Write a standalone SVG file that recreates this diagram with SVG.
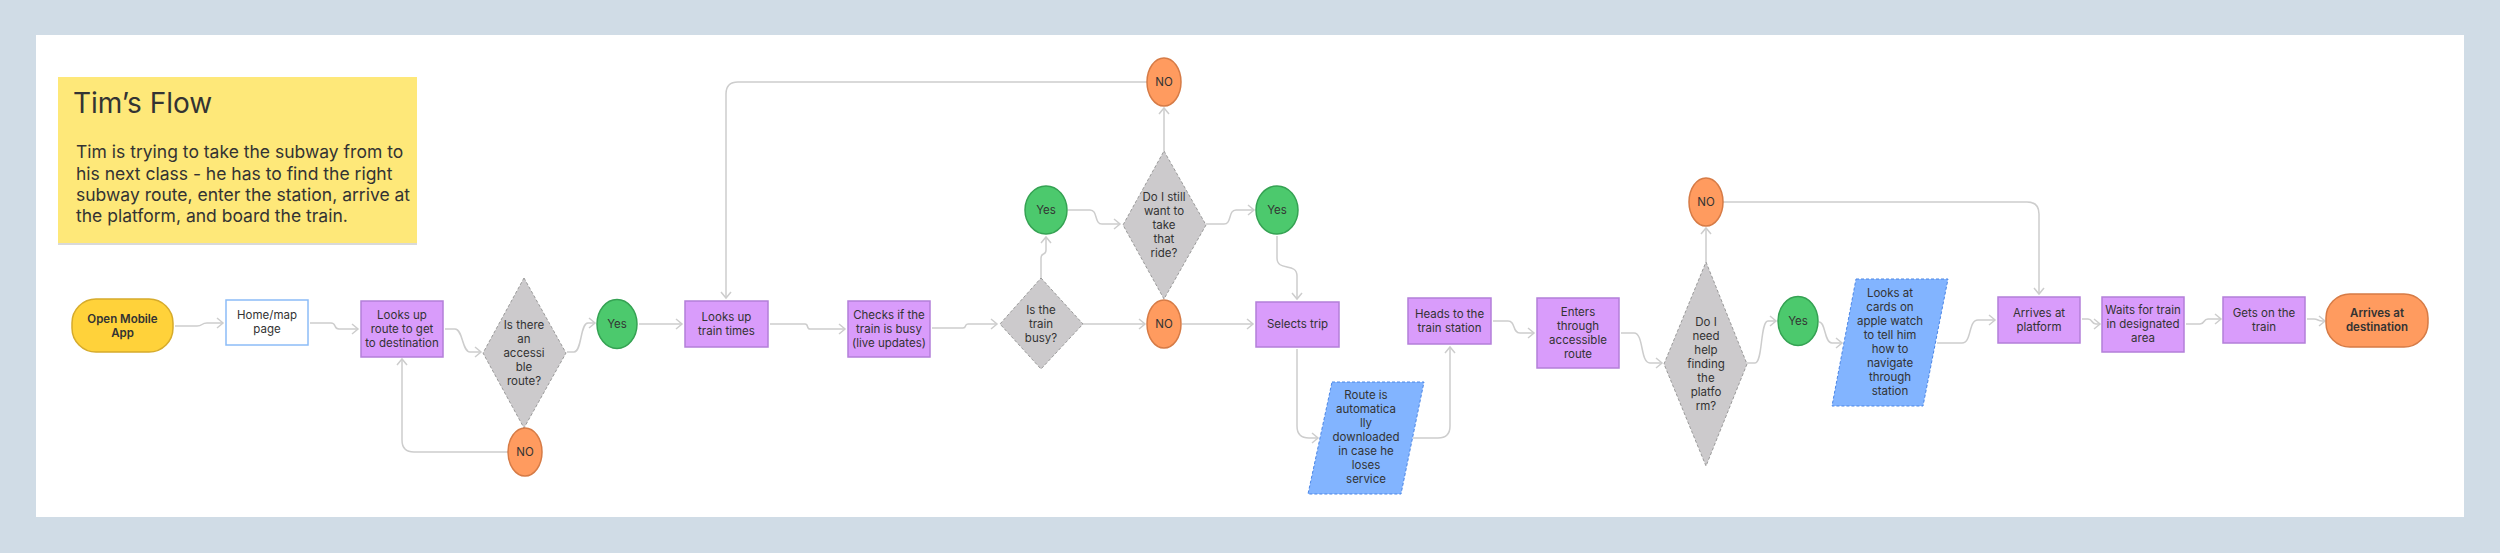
<svg xmlns="http://www.w3.org/2000/svg" width="2500" height="553" viewBox="0 0 2500 553">
<style>
text{font-family:Inter,"Noto Sans",sans-serif;fill:#333;}
.t{font-size:11.5px;text-anchor:middle;}
.b{font-size:11.5px;text-anchor:middle;font-weight:600;}
.proc{fill:#d99cfb;stroke:#b37fd9;stroke-width:1.5;}
.dec{fill:#cccacc;stroke:#9a9a9a;stroke-width:1;stroke-dasharray:3 2;}
.yes{fill:#4cc96d;stroke:#35a253;stroke-width:1.5;}
.no{fill:#ff9b5f;stroke:#d67b46;stroke-width:1.5;}
.io{fill:#82b4ff;stroke:#4b86e6;stroke-width:1;stroke-dasharray:3 2;}
.c path{fill:none;stroke:#cdcdcd;stroke-width:1.5;marker-end:url(#arr);}
</style>
<defs>
<marker id="arr" markerUnits="userSpaceOnUse" markerWidth="10" markerHeight="12" refX="7" refY="6" orient="auto">
<path d="M1,1 L7,6 L1,11" fill="none" stroke="#cdcdcd" stroke-width="1.5"/>
</marker>
</defs>
<rect x="0" y="0" width="2500" height="553" fill="#d0dce6"/>
<rect x="36" y="35" width="2428" height="482" fill="#ffffff"/>

<g id="sticky">
<rect x="58" y="79" width="359" height="166" fill="#d9d9d9"/>
<rect x="58" y="77" width="359" height="166" fill="#fee879"/>
<text x="73" y="113" style="font-size:28px">Tim’s Flow</text>
<text x="76" y="158" style="font-size:17.5px">Tim is trying to take the subway from to</text>
<text x="76" y="180" style="font-size:17.5px">his next class - he has to find the right</text>
<text x="76" y="201" style="font-size:17.5px">subway route, enter the station, arrive at</text>
<text x="76" y="222" style="font-size:17.5px">the platform, and board the train.</text>
</g>

<g class="c" id="connectors">
<path d="M175,326 H197 C203,326 201,323 207,323 H223"/>
<path d="M310,323 H331 C337,323 333,329 339,329 H358"/>
<path d="M445,329 H455 C463,329 462,352 470,352 H481"/>
<path d="M567,352 H574 C582,352 580,323 588,323 H595"/>
<path d="M508,452 H414 Q402,452 402,440 V359"/>
<path d="M639,324 H682"/>
<path d="M770,324 H805 C809,324 806,329 810,329 H845"/>
<path d="M932,328 H963 C967,328 964,324 968,324 H997"/>
<path d="M1041,278 V258 C1041,252 1046,256 1046,250 V237"/>
<path d="M1083,324 H1145"/>
<path d="M1182,324 H1253"/>
<path d="M1068,210 H1090 C1098,210 1094,224 1102,224 H1120"/>
<path d="M1206,224 H1224 C1232,224 1228,210 1236,210 H1254"/>
<path d="M1164,151 V108"/>
<path d="M1147,82 H738 Q726,82 726,94 V298"/>
<path d="M1277,236 V258 C1277,272 1297,262 1297,276 V299"/>
<path d="M1297,349 V426 Q1297,438 1309,438 H1318"/>
<path d="M1413,438 H1438 Q1450,438 1450,426 V347"/>
<path d="M1493,321 H1508 C1516,321 1512,333 1520,333 H1534"/>
<path d="M1621,333 H1634 C1644,333 1640,363 1650,363 H1662"/>
<path d="M1706,262 V228"/>
<path d="M1723,202 H2027 Q2039,202 2039,214 V294"/>
<path d="M1747,363 H1755 C1763,363 1760,321 1768,321 H1776"/>
<path d="M1819,322 C1826,322 1824,343 1832,343 H1842"/>
<path d="M1937,343 H1962 C1972,343 1968,320 1978,320 H1995"/>
<path d="M2082,319 H2088 C2093,319 2091,324 2096,324 H2100"/>
<path d="M2186,324 H2200 C2205,324 2203,319 2208,319 H2221"/>
<path d="M2307,319 H2314 C2318,319 2318,321 2322,321 H2325"/>
</g>

<g id="open-app">
<rect x="72" y="299" width="101" height="53" rx="24" fill="#ffd23a" stroke="#d6ab2b" stroke-width="1.5"/>
<text class="b" x="122.5" y="323">Open Mobile</text>
<text class="b" x="122.5" y="337">App</text>
</g>
<g id="home-map">
<rect x="226" y="300" width="82" height="45" fill="#ffffff" stroke="#8cbcf7" stroke-width="1.5"/>
<text class="t" x="267" y="319">Home/map</text>
<text class="t" x="267" y="333">page</text>
</g>
<g id="looks-route">
<rect class="proc" x="361" y="301" width="82" height="56"/>
<text class="t" x="402" y="319">Looks up</text>
<text class="t" x="402" y="333">route to get</text>
<text class="t" x="402" y="347">to destination</text>
</g>
<g id="d-accessible">
<polygon class="dec" points="524,278 566,353 524,428 483,353"/>
<text class="t" x="524" y="329">Is there</text>
<text class="t" x="524" y="343">an</text>
<text class="t" x="524" y="357">accessi</text>
<text class="t" x="524" y="371">ble</text>
<text class="t" x="524" y="385">route?</text>
</g>
<g id="no-1">
<ellipse class="no" cx="525" cy="452" rx="17" ry="24"/>
<text class="t" x="525" y="456">NO</text>
</g>
<g id="yes-1">
<ellipse class="yes" cx="617" cy="324" rx="20" ry="24.5"/>
<text class="t" x="617" y="328">Yes</text>
</g>
<g id="looks-times">
<rect class="proc" x="685" y="301" width="83" height="46"/>
<text class="t" x="726.5" y="321">Looks up</text>
<text class="t" x="726.5" y="335">train times</text>
</g>
<g id="checks-busy">
<rect class="proc" x="848" y="301" width="82" height="56"/>
<text class="t" x="889" y="319">Checks if the</text>
<text class="t" x="889" y="333">train is busy</text>
<text class="t" x="889" y="347">(live updates)</text>
</g>
<g id="d-busy">
<polygon class="dec" points="1041,278 1083,324 1041,369 1000,324"/>
<text class="t" x="1041" y="314">Is the</text>
<text class="t" x="1041" y="328">train</text>
<text class="t" x="1041" y="342">busy?</text>
</g>
<g id="yes-2">
<ellipse class="yes" cx="1046" cy="210" rx="21" ry="24"/>
<text class="t" x="1046" y="214">Yes</text>
</g>
<g id="d-still">
<polygon class="dec" points="1164,151 1206,225 1164,299 1123,225"/>
<text class="t" x="1164" y="201">Do I still</text>
<text class="t" x="1164" y="215">want to</text>
<text class="t" x="1164" y="229">take</text>
<text class="t" x="1164" y="243">that</text>
<text class="t" x="1164" y="257">ride?</text>
</g>
<g id="no-2">
<ellipse class="no" cx="1164" cy="82" rx="17" ry="24"/>
<text class="t" x="1164" y="86">NO</text>
</g>
<g id="no-3">
<ellipse class="no" cx="1164" cy="324" rx="17" ry="24"/>
<text class="t" x="1164" y="328">NO</text>
</g>
<g id="yes-3">
<ellipse class="yes" cx="1277" cy="210" rx="21" ry="24"/>
<text class="t" x="1277" y="214">Yes</text>
</g>
<g id="selects-trip">
<rect class="proc" x="1256" y="302" width="83" height="45"/>
<text class="t" x="1297.5" y="328">Selects trip</text>
</g>
<g id="route-downloaded">
<polygon class="io" points="1332,382 1424,382 1401,494 1308,494"/>
<text class="t" x="1366" y="399">Route is</text>
<text class="t" x="1366" y="413">automatica</text>
<text class="t" x="1366" y="427">lly</text>
<text class="t" x="1366" y="441">downloaded</text>
<text class="t" x="1366" y="455">in case he</text>
<text class="t" x="1366" y="469">loses</text>
<text class="t" x="1366" y="483">service</text>
</g>
<g id="heads-station">
<rect class="proc" x="1408" y="298" width="83" height="46"/>
<text class="t" x="1449.5" y="318">Heads to the</text>
<text class="t" x="1449.5" y="332">train station</text>
</g>
<g id="enters">
<rect class="proc" x="1537" y="298" width="82" height="70"/>
<text class="t" x="1578" y="316">Enters</text>
<text class="t" x="1578" y="330">through</text>
<text class="t" x="1578" y="344">accessible</text>
<text class="t" x="1578" y="358">route</text>
</g>
<g id="d-help">
<polygon class="dec" points="1706,262 1747,364 1706,466 1664,364"/>
<text class="t" x="1706" y="326">Do I</text>
<text class="t" x="1706" y="340">need</text>
<text class="t" x="1706" y="354">help</text>
<text class="t" x="1706" y="368">finding</text>
<text class="t" x="1706" y="382">the</text>
<text class="t" x="1706" y="396">platfo</text>
<text class="t" x="1706" y="410">rm?</text>
</g>
<g id="no-4">
<ellipse class="no" cx="1706" cy="202" rx="17" ry="24"/>
<text class="t" x="1706" y="206">NO</text>
</g>
<g id="yes-4">
<ellipse class="yes" cx="1798" cy="321" rx="20" ry="24.5"/>
<text class="t" x="1798" y="325">Yes</text>
</g>
<g id="apple-watch">
<polygon class="io" points="1856,279 1948,279 1923,406 1832,406"/>
<text class="t" x="1890" y="297">Looks at</text>
<text class="t" x="1890" y="311">cards on</text>
<text class="t" x="1890" y="325">apple watch</text>
<text class="t" x="1890" y="339">to tell him</text>
<text class="t" x="1890" y="353">how to</text>
<text class="t" x="1890" y="367">navigate</text>
<text class="t" x="1890" y="381">through</text>
<text class="t" x="1890" y="395">station</text>
</g>
<g id="arrives-platform">
<rect class="proc" x="1998" y="297" width="82" height="46"/>
<text class="t" x="2039" y="317">Arrives at</text>
<text class="t" x="2039" y="331">platform</text>
</g>
<g id="waits">
<rect class="proc" x="2102" y="297" width="82" height="55"/>
<text class="t" x="2143" y="314">Waits for train</text>
<text class="t" x="2143" y="328">in designated</text>
<text class="t" x="2143" y="342">area</text>
</g>
<g id="gets-on">
<rect class="proc" x="2223" y="297" width="82" height="46"/>
<text class="t" x="2264" y="317">Gets on the</text>
<text class="t" x="2264" y="331">train</text>
</g>
<g id="arrives-dest">
<rect x="2326" y="294" width="102" height="53" rx="24" fill="#ff9b5f" stroke="#d67b46" stroke-width="1.5"/>
<text class="b" x="2377" y="317">Arrives at</text>
<text class="b" x="2377" y="331">destination</text>
</g>
</svg>
